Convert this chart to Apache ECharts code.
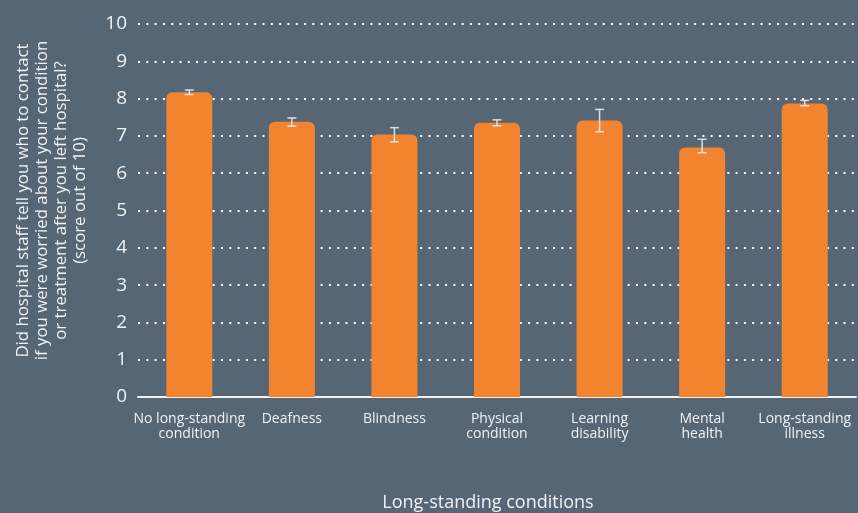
<!DOCTYPE html>
<html><head><meta charset="utf-8">
<script src="https://cdn.jsdelivr.net/npm/echarts@6/dist/echarts.min.js"></script>
<style>html,body{margin:0;padding:0;background:#566674;}#c{width:858px;height:513px;}</style>
</head><body><div id="c"></div>
<script>
const categories = ["No long-standing\ncondition", "Deafness", "Blindness", "Physical\ncondition", "Learning\ndisability", "Mental\nhealth", "Long-standing\nillness"];
const scores = [8.17, 7.38, 7.04, 7.35, 7.41, 6.69, 7.87];
const lowerCI = [8.11, 7.26, 6.84, 7.27, 7.11, 6.55, 7.81];
const upperCI = [8.23, 7.48, 7.22, 7.43, 7.71, 6.91, 7.95];
const yTicks = [0, 1, 2, 3, 4, 5, 6, 7, 8, 9, 10];
const yTitle = "Did hospital staff tell you who to contact\nif you were worried about your condition\nor treatment after you left hospital?\n(score out of 10)";
const xTitle = "Long-standing conditions";

const FONT = "Open Sans";
const chart = echarts.init(document.getElementById('c'));
chart.setOption({
  backgroundColor: '#566674',
  animation: false,
  textStyle: { fontFamily: FONT },
  grid: { left: 138, right: 2, top: 24, bottom: 116, containLabel: false, outerBoundsMode: 'none' },
  xAxis: {
    type: 'category',
    data: categories,
    axisTick: { show: false },
    axisLine: { lineStyle: { color: '#eef0f2', width: 2 } },
    axisLabel: { color: '#f2f2f2', fontSize: 14, lineHeight: 15, margin: 15, interval: 0, fontFamily: FONT },
    name: xTitle,
    nameLocation: 'middle',
    nameGap: 97,
    nameTextStyle: { color: '#f2f2f2', fontSize: 18, fontFamily: FONT, padding: [0, 18, 0, 0] }
  },
  yAxis: {
    type: 'value',
    min: yTicks[0],
    max: yTicks[yTicks.length - 1],
    interval: 1,
    axisLine: { show: false },
    axisTick: { show: false },
    axisLabel: { color: '#f2f2f2', fontSize: 19, margin: 11, fontFamily: FONT },
    splitLine: { lineStyle: { color: '#ffffff', width: 2, type: [2, 6.3] } },
    name: yTitle,
    nameLocation: 'middle',
    nameRotate: 90,
    nameGap: 48,
    nameTextStyle: { color: '#f2f2f2', fontSize: 16.8, lineHeight: 19, fontFamily: FONT, align: 'center', padding: [0, 0, 0, 20] }
  },
  series: [
    {
      type: 'bar',
      data: scores,
      barWidth: 46,
      itemStyle: { color: '#f2832f', borderRadius: [6, 6, 0, 0] },
      z: 2
    },
    {
      type: 'custom',
      z: 5,
      data: categories.map((c, i) => [i, lowerCI[i], upperCI[i]]),
      renderItem: function (params, api) {
        const lo = api.coord([api.value(0), api.value(1)]);
        const hi = api.coord([api.value(0), api.value(2)]);
        const hw = 4.5;
        const style = { stroke: '#e8ecef', lineWidth: 1.5, opacity: 0.9 };
        return {
          type: 'group',
          children: [
            { type: 'line', shape: { x1: hi[0], y1: hi[1], x2: lo[0], y2: lo[1] }, style: style },
            { type: 'line', shape: { x1: hi[0] - hw, y1: hi[1], x2: hi[0] + hw, y2: hi[1] }, style: style },
            { type: 'line', shape: { x1: lo[0] - hw, y1: lo[1], x2: lo[0] + hw, y2: lo[1] }, style: style }
          ]
        };
      }
    }
  ]
});
</script></body></html>
